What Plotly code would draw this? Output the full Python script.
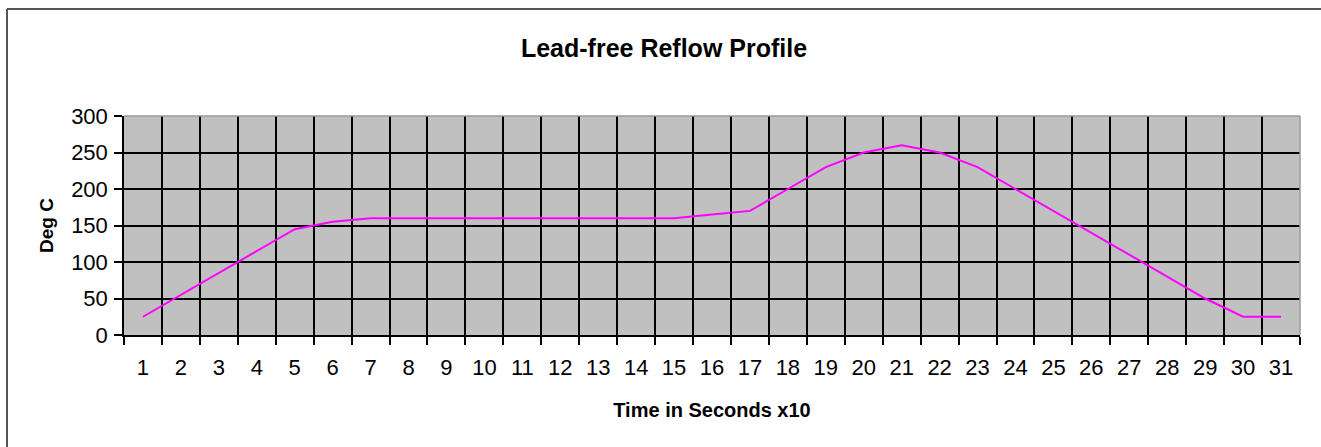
import plotly.graph_objects as go

# ---- data ----
time_labels = [str(i) for i in range(1, 32)]
temps_deg_c = [25, 55, 85, 115, 145, 155, 160, 160, 160, 160, 160, 160, 160, 160, 160,
               165, 170, 200, 230, 250, 260, 250, 230, 200, 170, 140, 110, 80, 50, 25, 25]
y_ticks = [0, 50, 100, 150, 200, 250, 300]

title_text = "Lead-free Reflow Profile"
x_title = "Time in Seconds x10"
y_title = "Deg C"

W, H = 1321, 447
ML, MR, MT, MB = 124, 21, 116, 112
PW, PH = W - ML - MR, H - MT - MB

FONT = "Liberation Sans, Arial, sans-serif"

fig = go.Figure()
fig.add_trace(go.Scatter(
    x=time_labels, y=temps_deg_c, mode="lines",
    line=dict(color="#FF00FF", width=2),
    showlegend=False, hoverinfo="x+y",
))

def px_x(p):
    return (p - ML) / PW

def px_y(p):
    return (H - MB - p) / PH

shapes = [
    # plot area top and right edges (gray)
    dict(type="line", xref="paper", yref="paper", x0=0, x1=1, y0=1, y1=1,
         line=dict(color="#9a9a9a", width=1.5), layer="above"),
    dict(type="line", xref="paper", yref="paper", x0=1, x1=1, y0=0, y1=1,
         line=dict(color="#9a9a9a", width=1.5), layer="above"),
    # outer chart border (left and top)
    dict(type="line", xref="paper", yref="paper", x0=px_x(7), x1=px_x(7), y0=px_y(9), y1=px_y(H + 5),
         line=dict(color="#555555", width=2)),
    dict(type="line", xref="paper", yref="paper", x0=px_x(7), x1=px_x(W + 5), y0=px_y(9), y1=px_y(9),
         line=dict(color="#555555", width=2)),
]

fig.update_layout(
    width=W, height=H,
    margin=dict(l=ML, r=MR, t=MT, b=MB, autoexpand=False),
    paper_bgcolor="white",
    plot_bgcolor="#C0C0C0",
    font=dict(family=FONT, color="black"),
    title=dict(text=title_text, x=664 / W, xref="container", xanchor="center",
               y=1 - 48 / H, yref="container", yanchor="middle",
               font=dict(family=FONT, size=25, weight="bold", color="black")),
    shapes=shapes,
)

fig.update_xaxes(
    type="category", range=[-0.5, len(time_labels) - 0.5],
    tickson="boundaries", ticks="outside", ticklen=8, tickcolor="black", tickwidth=1.5,
    ticklabelstandoff=12,
    showgrid=True, gridcolor="black", gridwidth=1.5,
    showline=True, linecolor="black", linewidth=1.5,
    tickfont=dict(family=FONT, size=22, color="black"),
    title=dict(text=x_title, font=dict(family=FONT, size=20, weight="bold", color="black"), standoff=24),
    automargin=False, fixedrange=True,
)
fig.update_yaxes(
    range=[0, 300], tickvals=y_ticks, ticks="outside", ticklen=8, tickcolor="black", tickwidth=1.5,
    ticklabelstandoff=2,
    showgrid=True, gridcolor="black", gridwidth=1.5, zeroline=False,
    showline=True, linecolor="black", linewidth=1.5,
    tickfont=dict(family=FONT, size=22, color="black"),
    title=dict(text=y_title, font=dict(family=FONT, size=19, weight="bold", color="black"), standoff=12),
    automargin=False, fixedrange=True,
)

fig.write_html("out.html", config={"displayModeBar": False},
               post_script="document.body.style.margin='0';")
